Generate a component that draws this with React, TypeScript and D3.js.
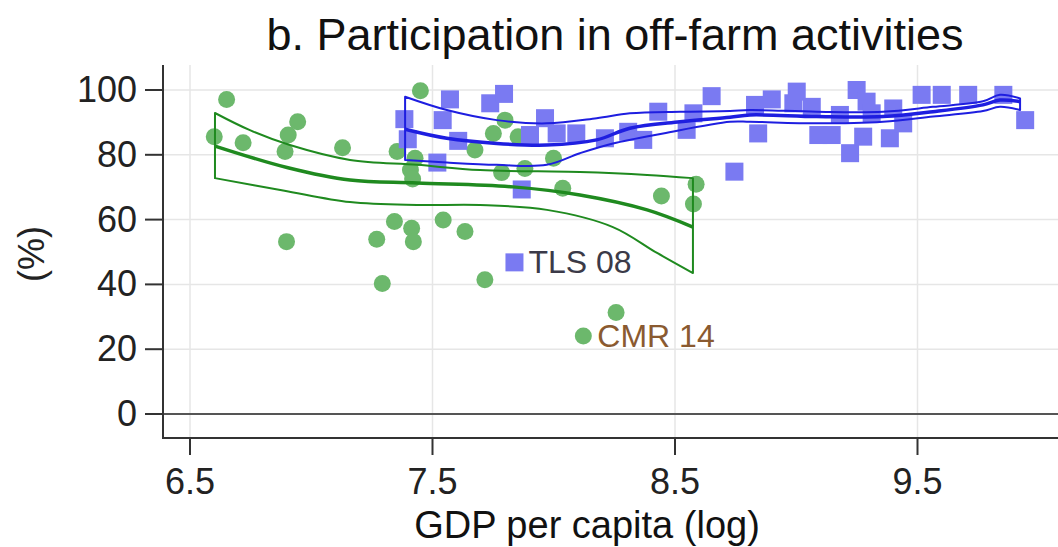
import React from "react";
import * as d3 from "d3";

// ---- Data ----
const xTicks = [6.5, 7.5, 8.5, 9.5];
const yTicks = [0, 20, 40, 60, 80, 100];

// Green group (circles)
const greenGdp = [6.6, 6.651, 6.719, 6.892, 6.905, 6.944, 6.898, 7.129, 7.27, 7.293, 7.343, 7.354, 7.409, 7.428, 7.418, 7.414, 7.421, 7.45, 7.544, 7.634, 7.675, 7.716, 7.751, 7.799, 7.785, 7.853, 7.881, 7.999, 8.037, 8.122, 8.257, 8.444, 8.587, 8.576];
const greenShare = [85.6, 97.1, 83.7, 81.0, 86.1, 90.2, 53.2, 82.2, 53.9, 40.3, 59.4, 81.0, 75.3, 78.9, 72.5, 57.3, 53.2, 99.8, 59.9, 56.3, 81.5, 41.4, 86.6, 90.7, 74.5, 85.6, 75.8, 78.9, 69.7, 24.1, 31.3, 67.3, 70.9, 64.8];

// Blue group (squares)
const blueGdp = [7.384, 7.398, 7.52, 7.542, 7.572, 7.606, 7.738, 7.795, 7.838, 7.868, 7.902, 7.964, 8.012, 8.093, 8.211, 8.307, 8.369, 8.431, 8.548, 8.576, 8.651, 8.745, 8.83, 8.843, 8.899, 8.988, 9.002, 9.064, 9.091, 9.146, 9.18, 9.222, 9.249, 9.276, 9.29, 9.311, 9.386, 9.4, 9.441, 9.517, 9.6, 9.709, 9.854, 9.944];
const blueShare = [91.0, 84.8, 77.6, 90.7, 97.1, 84.3, 95.9, 98.8, 46.8, 69.3, 86.1, 91.3, 86.6, 86.6, 85.1, 87.1, 84.6, 93.3, 87.7, 92.8, 98.1, 74.8, 95.4, 86.6, 97.1, 95.9, 99.5, 94.8, 86.1, 86.1, 92.3, 80.5, 100, 85.6, 96.4, 92.8, 85.1, 94.3, 89.7, 98.5, 98.5, 98.5, 98.5, 90.7];

// Green fit and confidence band
const greenFitX = [6.603, 6.904, 7.16, 7.436, 7.832, 8.108, 8.385, 8.574];
const greenFitY = [82.7, 76.0, 72.2, 71.3, 70.1, 67.6, 63.0, 57.7];
const greenUpX = [6.603, 6.747, 6.912, 7.16, 7.436, 7.696, 8.108, 8.385, 8.574];
const greenUpY = [92.9, 87.6, 83.0, 78.4, 76.9, 75.3, 74.7, 73.8, 72.8];
const greenLoX = [6.603, 6.884, 7.16, 7.436, 7.696, 7.972, 8.244, 8.426, 8.574];
const greenLoY = [72.8, 69.0, 65.4, 64.5, 64.5, 63.0, 57.7, 49.7, 43.5];

// Blue fit and confidence band
const blueFitX = [7.387, 7.559, 7.765, 7.971, 8.177, 8.314, 8.521, 8.727, 8.809, 9.084, 9.358, 9.564, 9.77, 9.84, 9.923];
const blueFitY = [87.9, 85.1, 83.5, 83.0, 84.6, 88.2, 90.2, 91.6, 92.3, 91.8, 91.8, 93.3, 95.4, 96.9, 96.4];
const blueUpX = [7.387, 7.559, 7.765, 7.971, 8.177, 8.314, 8.521, 8.727, 8.809, 9.084, 9.358, 9.564, 9.77, 9.84, 9.923];
const blueUpY = [97.9, 93.8, 90.7, 89.7, 91.3, 92.8, 93.3, 93.5, 93.8, 93.3, 93.3, 94.8, 96.5, 98.5, 97.4];
const blueLoX = [7.387, 7.559, 7.765, 7.971, 8.108, 8.244, 8.451, 8.727, 8.809, 9.084, 9.358, 9.564, 9.77, 9.84, 9.923];
const blueLoY = [78.4, 77.6, 76.9, 76.9, 80.5, 83.5, 86.6, 90.2, 90.2, 89.7, 90.2, 91.8, 93.5, 94.8, 93.8];

const labels = [
  { text: "TLS 08", gdp: 7.838, share: 46.8, color: "#3b3a48" },
  { text: "CMR 14", gdp: 8.122, share: 24.1, color: "#8a5a30" },
];

// ---- Layout ----
const W = 1058;
const H = 547;
const axisLeft = 163;
const axisBottom = 438;
const plotTop = 65;

const x = d3.scaleLinear().domain([6.5, 9.5]).range([190, 917.5]);
const y = d3.scaleLinear().domain([0, 100]).range([414, 90]);

const GREEN_PT = "#6cb86c";
const GREEN_LN = "#1f8a1f";
const BLUE_PT = "#7a7af2";
const BLUE_LN = "#1e1ee0";
const FONT = "'Liberation Sans', Arial, Helvetica, sans-serif";

function zip(xs: number[], ys: number[]): [number, number][] {
  return xs.map((v, i) => [v, ys[i]]);
}

const line = d3
  .line<[number, number]>()
  .x((d) => x(d[0]))
  .y((d) => y(d[1]))
  .curve(d3.curveCatmullRom.alpha(0.5));

function bandPath(upX: number[], upY: number[], loX: number[], loY: number[]) {
  const up = line(zip(upX, upY)) || "";
  const loRev = zip(loX, loY).reverse();
  const lo = (line(loRev) || "").replace(/^M/, "L");
  return up + lo + "Z";
}

export default function App() {
  const sq = 18;
  const r = 8.5;
  return (
    <svg width={W} height={H} style={{ display: "block", position: "absolute", left: 0, top: 0, background: "#fff" }}>
      <rect x={0} y={0} width={W} height={H} fill="#fff" />
      {/* Grid */}
      {yTicks.filter((t) => t !== 0).map((t) => (
        <line key={"gy" + t} x1={axisLeft} x2={W} y1={y(t)} y2={y(t)} stroke="#e6e6e6" strokeWidth={1.5} />
      ))}
      {xTicks.map((t) => (
        <line key={"gx" + t} x1={x(t)} x2={x(t)} y1={plotTop} y2={axisBottom} stroke="#e6e6e6" strokeWidth={1.5} />
      ))}
      {/* zero line */}
      <line x1={axisLeft} x2={W} y1={y(0)} y2={y(0)} stroke="#555" strokeWidth={2} />

      {/* Points */}
      {greenGdp.map((g, i) => (
        <circle key={"g" + i} cx={x(g)} cy={y(greenShare[i])} r={r} fill={GREEN_PT} />
      ))}
      {blueGdp.map((g, i) => (
        <rect key={"b" + i} x={x(g) - sq / 2} y={y(blueShare[i]) - sq / 2} width={sq} height={sq} fill={BLUE_PT} />
      ))}

      {/* Fits */}
      <path d={bandPath(greenUpX, greenUpY, greenLoX, greenLoY)} fill="none" stroke={GREEN_LN} strokeWidth={2} strokeLinejoin="round" />
      <path d={line(zip(greenFitX, greenFitY)) || ""} fill="none" stroke={GREEN_LN} strokeWidth={3.5} />
      <path d={bandPath(blueUpX, blueUpY, blueLoX, blueLoY)} fill="none" stroke={BLUE_LN} strokeWidth={2} strokeLinejoin="round" />
      <path d={line(zip(blueFitX, blueFitY)) || ""} fill="none" stroke={BLUE_LN} strokeWidth={3.5} />

      {/* Labels */}
      {labels.map((l) => (
        <text key={l.text} x={x(l.gdp) + 14} y={y(l.share) + 11} fontFamily={FONT} fontSize={32} fill={l.color}>
          {l.text}
        </text>
      ))}

      {/* Axes */}
      <path d={`M${axisLeft},${plotTop} L${axisLeft},${axisBottom} L${W},${axisBottom}`} fill="none" stroke="#333" strokeWidth={2} />
      {yTicks.map((t) => (
        <g key={"yt" + t}>
          <line x1={145} x2={axisLeft} y1={y(t)} y2={y(t)} stroke="#333" strokeWidth={2} />
          <text x={137} y={y(t) + 12} textAnchor="end" fontFamily={FONT} fontSize={36} fill="#222">
            {t}
          </text>
        </g>
      ))}
      {xTicks.map((t) => (
        <g key={"xt" + t}>
          <line x1={x(t)} x2={x(t)} y1={axisBottom} y2={455} stroke="#333" strokeWidth={2} />
          <text x={x(t)} y={494} textAnchor="middle" fontFamily={FONT} fontSize={36} fill="#222">
            {t.toFixed(1)}
          </text>
        </g>
      ))}

      {/* Titles */}
      <text x={615} y={50} textAnchor="middle" fontFamily={FONT} fontSize={45} fill="#111">
        b. Participation in off-farm activities
      </text>
      <text x={587} y={538} textAnchor="middle" fontFamily={FONT} fontSize={38} fill="#111">
        GDP per capita (log)
      </text>
      <text transform="translate(44,254) rotate(-90)" textAnchor="middle" fontFamily={FONT} fontSize={36} fill="#222">
        (%)
      </text>
    </svg>
  );
}
